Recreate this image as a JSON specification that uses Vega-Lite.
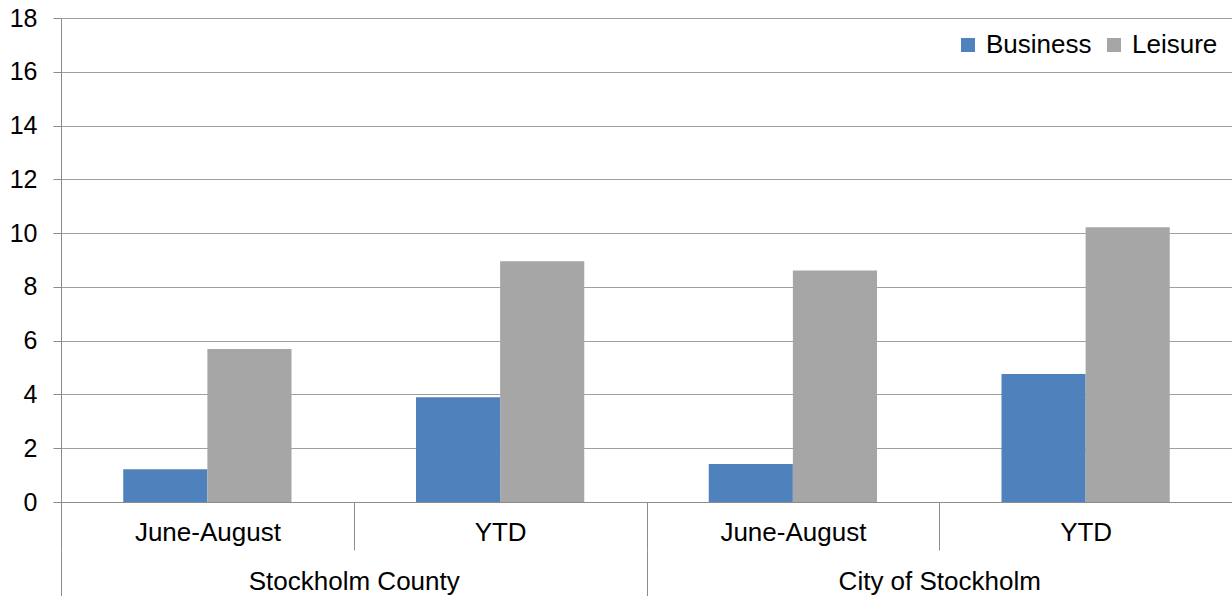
{
  "$schema": "https://vega.github.io/schema/vega-lite/v6.json",
  "autosize": "none",
  "width": 1171,
  "height": 484,
  "padding": {"left": 61, "top": 18, "right": 0, "bottom": 94},
  "background": "white",
  "config": {
    "font": "Liberation Sans",
    "view": {"stroke": null}
  },
  "layer": [
    {
      "data": {"values": [
        {"key": "Stockholm County|June-August", "series": "Business", "value": 1.22},
        {"key": "Stockholm County|June-August", "series": "Leisure", "value": 5.69},
        {"key": "Stockholm County|YTD", "series": "Business", "value": 3.9},
        {"key": "Stockholm County|YTD", "series": "Leisure", "value": 8.95},
        {"key": "City of Stockholm|June-August", "series": "Business", "value": 1.41},
        {"key": "City of Stockholm|June-August", "series": "Leisure", "value": 8.61},
        {"key": "City of Stockholm|YTD", "series": "Business", "value": 4.76},
        {"key": "City of Stockholm|YTD", "series": "Leisure", "value": 10.22}
      ]},
      "mark": {"type": "bar"},
      "encoding": {
        "x": {
          "field": "key", "type": "nominal", "sort": null,
          "scale": {"paddingInner": 0, "paddingOuter": 0},
          "axis": {
            "title": null, "labelAngle": 0,
            "labelExpr": "split(datum.value, '|')[1]",
            "labelFont": "Liberation Sans", "labelFontSize": 26, "labelColor": "#000000",
            "labelLimit": 500,
            "tickBand": "extent", "tickSize": 48, "tickColor": "#8c8c8c",
            "domainColor": "#8c8c8c", "labelPadding": -31, "grid": false
          }
        },
        "xOffset": {"field": "series", "type": "nominal", "scale": {"paddingInner": 0, "paddingOuter": 0.74}},
        "y": {
          "field": "value", "type": "quantitative",
          "scale": {"domain": [0, 18], "nice": false},
          "axis": {
            "title": null, "values": [0,2,4,6,8,10,12,14,16,18],
            "labelFont": "Liberation Sans", "labelFontSize": 25, "labelColor": "#000000",
            "grid": true, "gridColor": "#a0a0a0", "domainColor": "#8c8c8c",
            "tickColor": "#8c8c8c", "tickSize": 8, "labelPadding": 16
          }
        },
        "color": {
          "field": "series", "type": "nominal",
          "scale": {"domain": ["Business", "Leisure"], "range": ["#4F81BD", "#A6A6A6"]},
          "legend": {
            "title": null, "orient": "top-right", "direction": "horizontal",
            "offset": 14, "symbolType": "square", "symbolSize": 196,
            "labelFontSize": 26, "labelFont": "Liberation Sans", "labelColor": "#000000",
            "labelOffset": 5, "columnPadding": 9, "symbolStrokeWidth": 0
          }
        }
      }
    },
    {
      "data": {"values": [
        {"region": "Stockholm County"},
        {"region": "City of Stockholm"}
      ]},
      "mark": {"type": "text", "opacity": 0},
      "encoding": {
        "x": {
          "field": "region", "type": "nominal", "sort": null,
          "scale": {"paddingInner": 0, "paddingOuter": 0},
          "axis": {
            "orient": "bottom", "offset": 48, "title": null, "labelAngle": 0,
            "labelFont": "Liberation Sans", "labelFontSize": 26, "labelColor": "#000000",
            "labelLimit": 500,
            "domain": false, "tickBand": "extent", "tickSize": 46,
            "tickColor": "#8c8c8c", "labelPadding": -28, "grid": false
          }
        },
        "text": {"value": ""}
      }
    }
  ],
  "resolve": {"scale": {"x": "independent"}, "axis": {"x": "independent"}}
}
